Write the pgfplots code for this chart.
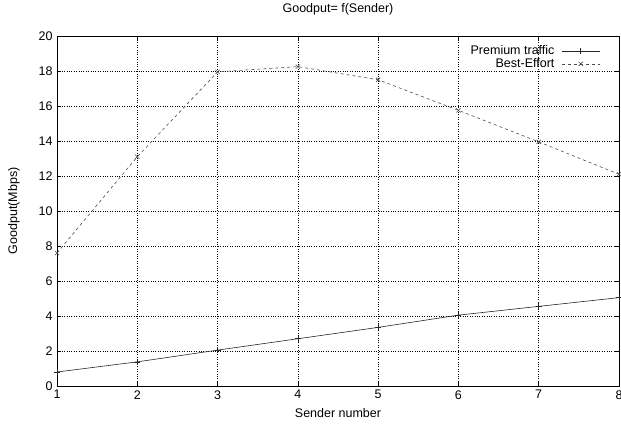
\documentclass[border=0pt]{standalone}
\usepackage{fontspec}
\setmainfont{Liberation Sans}
\usepackage{pgfplots}
\pgfplotsset{compat=1.18}

\begin{document}
\fontsize{12.5}{14}\selectfont
\begin{tikzpicture}
\path[use as bounding box] (-57pt,-37pt) rectangle (564pt,386pt);
\begin{axis}[
  scale only axis,
  width=562pt, height=350pt,
  xmin=1, xmax=8, ymin=0, ymax=20,
  xtick={1,...,8}, ytick={0,2,...,20},
  /pgf/number format/assume math mode=true,
  tick align=inside,
  major tick length=4pt,
  tick style={black, line width=0.5pt},
  grid=major,
  major grid style={black, dotted, line width=0.6pt},
  axis line style={black, line width=0.7pt},
  title={Goodput= f(Sender)},
  title style={at={(0.5,1)}, anchor=south, yshift=11pt},
  xlabel={Sender number},
  ylabel={Goodput(Mbps)},
  xlabel style={at={(axis description cs:0.5,-0.077)}, anchor=center},
  ylabel style={at={(axis description cs:-0.0765,0.5)}, anchor=center},
  legend style={at={(0.972,0.985)}, anchor=north east, draw=none, fill=none,
    row sep=-2pt, font=\fontsize{12.5}{14}\selectfont,
    /tikz/every odd column/.append style={column sep=5pt}},
  legend cell align=right,
  legend plot pos=right,
  legend image code/.code={
    \draw[mark repeat=2, mark phase=2, #1]
      plot coordinates {(0pt,0pt) (19pt,0pt) (38pt,0pt)};
  },
  every axis plot/.append style={line width=0.6pt},
]
\addplot[black!85, mark=+, mark size=3pt, mark options={solid}]
  coordinates {(1,0.80) (2,1.38) (3,2.05) (4,2.70) (5,3.35) (6,4.05) (7,4.55) (8,5.05)};
\addlegendentry{Premium traffic}
\addplot[black!70, dashed, mark=x, mark size=3pt, mark options={solid}]
  coordinates {(1,7.60) (2,13.10) (3,17.95) (4,18.25) (5,17.50) (6,15.75) (7,13.95) (8,12.10)};
\addlegendentry{Best-Effort}
\end{axis}
\end{tikzpicture}
\end{document}
